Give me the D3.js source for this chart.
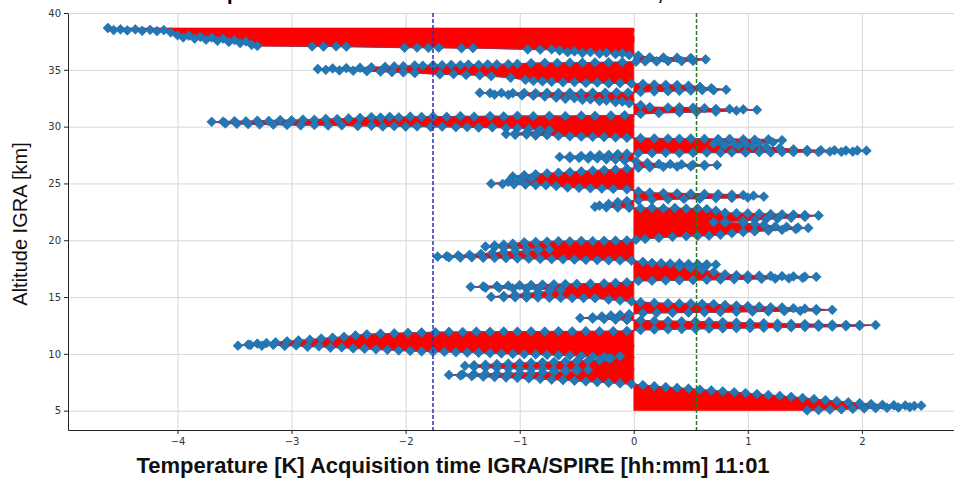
<!DOCTYPE html>
<html>
<head>
<meta charset="utf-8">
<script src="https://cdn.jsdelivr.net/npm/d3@7"></script>
<style>
  body { margin: 0; background: #fff; }
  svg { display: block; }
  .grid line { stroke: #d6d6d6; stroke-width: 1; }
  .grid path { display: none; }
  .axis path, .axis line { stroke: #222; }
  .axis text { font-family: "DejaVu Sans", sans-serif; font-size: 10px; fill: #333; }
</style>
</head>
<body>
<div id="chart"></div>
<script>
// Canvas
var width  = 954;
var height = 484;

// Tick values
var xTicks = [-4, -3, -2, -1, 0, 1, 2];
var yTicks = [5, 10, 15, 20, 25, 30, 35, 40];

// Dashed reference lines [K]
var refLines = [-1.76, 0.55];

// Profile points: [temperature difference K, altitude km]
var upperProfile = [
  [-4.61,38.68],[-4.56,38.50],[-4.50,38.56],[-4.44,38.47],[-4.37,38.55],[-4.31,38.43],[-4.24,38.52],[-4.18,38.40],[-4.12,38.49],[-4.06,38.30],
  [-4.00,38.05],[-3.95,37.85],[-3.90,38.00],[-3.85,37.75],[-3.80,37.90],[-3.75,37.65],[-3.70,37.85],[-3.65,37.55],[-3.60,37.75],[-3.55,37.45],[-3.50,37.62],[-3.45,37.35],
  [-3.40,37.50],[-3.35,37.20],[-3.30,37.10],
  [-2.82,37.06],[-2.72,37.05],[-2.61,37.06],[-2.52,37.04],[-2.01,36.95],[-1.90,36.96],[-1.80,36.94],[-1.71,36.95],[-1.51,36.90],[-1.41,36.92],[-0.93,36.80],[-0.82,36.78],[-0.72,36.80],
  [-0.65,36.70],[-0.58,36.55],[-0.52,36.62],[-0.45,36.48],[-0.38,36.56],[-0.30,36.42],[-0.24,36.50],[-0.16,36.38],[-0.10,36.45],[-0.04,36.30],
  [0.04,36.25],[0.14,36.10],[0.26,36.08],[0.38,36.06],[0.50,36.04],[0.63,35.92],[0.52,35.78],[0.42,35.76],[0.30,35.77],[0.20,35.74],[0.10,35.74],[0.02,35.72],
  [-0.10,35.68],[-0.22,35.66],[-0.34,35.65],[-0.45,35.62],[-0.56,35.63],[-0.67,35.60],[-0.78,35.61],[-0.90,35.58],[-1.02,35.52],[-1.10,35.50],[-1.20,35.47],[-1.28,35.48],
  [-1.36,35.44],[-1.45,35.46],[-1.52,35.42],[-1.60,35.44],[-1.68,35.40],[-1.76,35.41],[-1.85,35.36],[-1.92,35.38],[-2.02,35.32],[-2.10,35.30],[-2.18,35.26],[-2.30,35.22],
  [-2.40,35.18],[-2.52,35.15],[-2.64,35.12],[-2.77,35.07],
  [-2.70,35.00],[-2.58,34.95],[-2.46,34.92],[-2.34,34.88],[-2.22,34.85],[-2.12,34.80],[-2.02,34.78],[-1.92,34.72],[-1.70,34.60],[-1.58,34.62],[-1.47,34.55],[-1.35,34.52],
  [-1.25,34.45],[-1.08,34.30],[-0.95,34.12],[-0.88,34.02],[-0.80,33.98],[-0.72,33.95],[-0.62,33.90],[-0.52,33.92],[-0.42,33.85],[-0.32,33.88],[-0.22,33.80],[-0.12,33.82],[-0.02,33.78],
  [0.08,33.75],[0.18,33.70],[0.28,33.68],[0.38,33.66],[0.48,33.60],[0.58,33.50],[0.68,33.38],[0.81,33.25],[0.70,33.20],[0.60,33.22],[0.50,33.18],[0.40,33.15],[0.30,33.12],[0.18,33.10],[0.06,33.05],
  [-0.05,33.00],[-0.15,33.02],[-0.25,32.98],[-0.36,33.00],[-0.46,32.95],[-0.56,32.98],[-0.66,32.96],[-0.76,32.98],[-0.86,32.95],[-0.96,32.97],[-1.06,32.95],[-1.16,32.97],[-1.26,32.95],[-1.35,32.98],
  [-1.22,32.82],[-1.10,32.80],[-0.98,32.75],[-0.88,32.72],[-0.78,32.65],[-0.68,32.55],[-0.60,32.45],[-0.52,32.50],[-0.45,32.35],[-0.38,32.40],[-0.30,32.25],[-0.24,32.30],[-0.16,32.15],[-0.10,32.20],[-0.04,32.05],
  [0.06,31.90],[0.14,31.72],[0.30,31.68],[0.40,31.70],[0.52,31.66],[0.62,31.62],[0.72,31.55],[0.84,31.55],[0.96,31.52],[1.08,31.48],[0.90,31.40],[0.72,31.32],[0.55,31.28],[0.40,31.25],[0.22,31.20],[0.06,31.12],
  [-0.08,31.00],[-0.20,30.98],[-0.34,30.95],[-0.46,30.96],[-0.60,30.92],[-0.74,30.95],[-0.88,30.92],[-1.02,30.95],[-1.14,30.90],[-1.26,30.93],[-1.40,30.88],[-1.52,30.92],
  [-1.64,30.86],[-1.76,30.90],[-1.86,30.85],[-1.96,30.88],[-2.06,30.82],[-2.14,30.86],[-2.22,30.80],[-2.30,30.84],[-2.40,30.76],[-2.50,30.72],[-2.60,30.66],[-2.70,30.68],
  [-2.80,30.60],[-2.90,30.62],[-3.00,30.55],[-3.10,30.58],[-3.20,30.50],[-3.30,30.52],[-3.40,30.46],[-3.50,30.48],[-3.60,30.44],[-3.70,30.42],
  [-3.58,30.28],[-3.48,30.25],[-3.38,30.22],[-3.28,30.20],[-3.16,30.18],[-3.04,30.15],[-2.92,30.12],[-2.80,30.15],[-2.68,30.10],[-2.56,30.12],[-2.42,30.05],[-2.30,30.08],
  [-2.20,30.02],[-2.10,30.05],[-2.00,30.00],[-1.90,30.02],[-1.78,29.98],[-1.68,30.00],[-1.56,29.95],[-1.46,29.96],[-1.36,29.92],[-1.24,29.94],[-1.12,29.88],[-1.02,29.86],
  [-0.92,29.80],[-0.82,29.72],[-0.74,29.68],[-0.84,29.55],[-0.94,29.48],[-1.04,29.40],[-1.12,29.35],[-1.04,29.28],[-0.94,29.30],[-0.86,29.22],[-0.76,29.25],[-0.66,29.18],
  [-0.56,29.15],[-0.46,29.12],[-0.36,29.10],[-0.26,29.08],[-0.16,29.05],[-0.06,29.02]
];

var middleProfile = [
  [0.06,28.98],[0.18,28.96],[0.30,28.95],[0.40,28.93],[0.50,28.95],[0.62,28.92],[0.74,28.90],[0.84,28.92],[0.96,28.88],[1.06,28.85],[1.18,28.88],[1.30,28.80],
  [1.22,28.62],[1.10,28.55],[0.98,28.50],[0.88,28.52],[0.78,28.45],[0.70,28.48],[0.80,28.35],[0.92,28.30],[1.04,28.28],[1.16,28.20],[1.28,28.10],[1.40,28.00],
  [1.52,27.95],[1.64,27.92],[1.76,27.92],[1.86,27.90],[1.96,27.90],[2.04,27.88],
  [1.92,27.80],[1.82,27.78],[1.72,27.80],[1.62,27.76],[1.52,27.78],[1.40,27.75],[1.30,27.76],[1.20,27.73],[1.10,27.75],[0.98,27.72],[0.86,27.74],[0.76,27.70],
  [0.64,27.72],[0.52,27.70],[0.40,27.68],[0.28,27.70],[0.16,27.66],[0.04,27.66],
  [-0.06,27.62],[-0.14,27.58],[-0.22,27.52],[-0.30,27.50],[-0.38,27.45],[-0.46,27.42],[-0.56,27.38],[-0.65,27.33],[-0.56,27.22],[-0.48,27.25],[-0.40,27.18],[-0.32,27.20],
  [-0.24,27.12],[-0.16,27.10],[-0.08,27.02],
  [0.02,26.95],[0.12,26.80],[0.22,26.72],[0.32,26.70],[0.42,26.68],[0.52,26.66],[0.62,26.64],[0.73,26.62],[0.62,26.55],[0.50,26.50],[0.38,26.48],[0.26,26.45],[0.14,26.42],[0.04,26.38],
  [-0.06,26.30],[-0.16,26.22],[-0.26,26.18],[-0.36,26.12],[-0.46,26.05],[-0.56,26.00],[-0.66,25.94],[-0.76,25.88],[-0.86,25.80],[-0.96,25.72],[-1.06,25.62],[-0.98,25.50],
  [-0.90,25.45],[-1.00,25.30],[-1.10,25.15],[-1.25,24.98],
  [-1.15,24.95],[-1.05,24.92],[-0.95,24.90],[-0.86,24.86],[-0.77,24.85],[-0.68,24.78],[-0.58,24.65],[-0.48,24.62],[-0.38,24.58],[-0.28,24.55],[-0.18,24.52],[-0.06,24.48],
  [0.04,24.30],[0.14,24.18],[0.26,24.15],[0.38,24.12],[0.50,24.10],[0.62,24.08],[0.74,24.05],[0.86,24.02],[0.96,23.98],[1.05,23.92],[1.14,23.84],
  [1.00,23.76],[0.86,23.72],[0.72,23.70],[0.58,23.66],[0.44,23.64],[0.30,23.60],[0.16,23.56],[0.04,23.52],
  [-0.06,23.45],[-0.14,23.35],[-0.22,23.20],[-0.30,23.05],[-0.34,22.95],[-0.24,22.90],[-0.14,22.88],[-0.04,22.85],
  [0.06,22.82],[0.16,22.86],[0.26,22.80],[0.36,22.84],[0.46,22.78],[0.56,22.80],[0.64,22.74],
  [0.72,22.60],[0.80,22.42],[0.90,22.38],[1.00,22.36],[1.10,22.34],[1.20,22.30],[1.30,22.28],[1.40,22.26],[1.50,22.22],[1.62,22.18],
  [1.50,22.05],[1.38,21.98],[1.26,21.90],[1.16,21.85],[1.06,21.80],[0.96,21.70],[0.80,21.66],[0.70,21.60],[0.80,21.55],[0.96,21.50],[1.06,21.42],[1.14,21.35],
  [1.24,21.22],[1.34,21.18],[1.44,21.12],[1.53,21.08],[1.42,20.98],[1.30,20.92],[1.18,20.85],[1.06,20.78],[0.96,20.72],[0.86,20.62],[0.76,20.48],[0.66,20.40],
  [0.56,20.38],[0.46,20.36],[0.34,20.30],[0.22,20.22],[0.10,20.12],[0.02,20.05]
];

var lowerProfile = [
  [-0.06,19.98],[-0.16,19.96],[-0.26,19.95],[-0.36,19.92],[-0.46,19.94],[-0.56,19.90],[-0.66,19.92],[-0.76,19.88],[-0.86,19.85],[-0.96,19.82],[-1.06,19.70],[-1.14,19.62],
  [-1.22,19.55],[-1.30,19.45],[-1.22,19.40],[-1.14,19.35],[-1.04,19.30],[-0.94,19.25],[-0.84,19.22],[-0.74,19.18],[-0.84,19.10],[-0.94,19.05],[-1.04,19.00],[-1.14,18.95],
  [-1.24,18.88],[-1.34,18.80],[-1.44,18.72],[-1.54,18.66],[-1.64,18.60],[-1.72,18.56],
  [-1.62,18.50],[-1.52,18.48],[-1.42,18.50],[-1.32,18.46],[-1.22,18.44],[-1.12,18.42],[-1.02,18.40],[-0.92,18.38],[-0.82,18.36],[-0.72,18.34],[-0.62,18.32],[-0.52,18.30],
  [-0.42,18.28],[-0.32,18.26],[-0.22,18.24],[-0.12,18.22],[-0.02,18.20],
  [0.08,18.10],[0.16,18.00],[0.24,17.98],[0.32,17.95],[0.40,17.96],[0.48,17.92],[0.56,17.90],[0.64,17.88],[0.72,17.86],[0.64,17.78],[0.56,17.74],[0.48,17.70],
  [0.40,17.66],[0.50,17.55],[0.60,17.40],[0.70,17.20],[0.80,17.00],[0.90,16.92],[1.00,16.90],[1.10,16.88],[1.20,16.86],[1.30,16.84],[1.40,16.82],[1.50,16.80],[1.60,16.78],
  [1.48,16.68],[1.36,16.64],[1.24,16.62],[1.12,16.60],[1.00,16.58],[0.88,16.56],[0.76,16.54],[0.64,16.52],[0.52,16.50],[0.40,16.48],[0.28,16.46],[0.16,16.44],[0.04,16.42],
  [-0.06,16.30],[-0.16,16.24],[-0.26,16.20],[-0.38,16.18],[-0.50,16.16],[-0.60,16.14],[-0.70,16.12],[-0.80,16.10],[-0.90,16.06],[-1.00,16.04],[-1.10,16.00],[-1.20,15.98],
  [-1.32,15.94],[-1.43,15.90],
  [-1.30,15.82],[-1.18,15.80],[-1.06,15.76],[-0.94,15.74],[-0.84,15.70],[-0.74,15.68],[-0.64,15.62],[-0.74,15.50],[-0.84,15.40],[-0.94,15.30],[-1.04,15.20],[-1.14,15.10],
  [-1.25,15.02],[-1.14,14.98],[-1.04,14.97],[-0.94,14.95],[-0.84,14.96],[-0.74,14.94],[-0.64,14.93],[-0.54,14.92],[-0.44,14.91],[-0.34,14.90],[-0.22,14.78],[-0.12,14.70],[-0.02,14.62],
  [0.06,14.55],[0.18,14.48],[0.30,14.45],[0.40,14.43],[0.50,14.44],[0.60,14.40],[0.70,14.38],[0.80,14.30],[0.90,14.25],[1.00,14.20],[1.10,14.15],[1.20,14.10],
  [1.30,14.08],[1.40,14.02],[1.50,13.98],[1.60,13.94],[1.74,13.88],
  [1.60,13.80],[1.46,13.78],[1.32,13.76],[1.18,13.74],[1.04,13.72],[0.90,13.70],[0.76,13.68],[0.62,13.66],[0.48,13.64],[0.34,13.62],[0.20,13.60],[0.08,13.58],
  [-0.04,13.50],[-0.12,13.44],[-0.20,13.38],[-0.28,13.30],[-0.36,13.22],[-0.47,13.15],[-0.36,13.10],[-0.26,13.06],[-0.16,13.02],[-0.06,12.98],
  [0.06,12.95],[0.18,12.90],[0.30,12.88],[0.42,12.86],[0.54,12.85],[0.66,12.83],[0.78,12.80],[0.90,12.75],[1.02,12.72],[1.14,12.70],[1.26,12.66],[1.38,12.64],
  [1.50,12.62],[1.62,12.60],[1.74,12.58],[1.86,12.56],[1.98,12.55],[2.12,12.54],
  [1.98,12.46],[1.86,12.42],[1.74,12.40],[1.62,12.38],[1.50,12.36],[1.38,12.34],[1.26,12.32],[1.14,12.30],[1.02,12.28],[0.90,12.26],[0.78,12.24],[0.66,12.22],
  [0.54,12.20],[0.42,12.18],[0.30,12.16],[0.18,12.14],[0.06,12.10]
];

var bottomProfile = [
  [-0.06,12.02],[-0.18,12.00],[-0.30,11.98],[-0.42,11.99],[-0.54,11.97],[-0.66,11.98],[-0.78,11.96],[-0.90,11.97],[-1.02,11.95],[-1.14,11.96],[-1.26,11.94],[-1.38,11.95],
  [-1.50,11.92],[-1.62,11.93],[-1.74,11.90],[-1.86,11.88],[-1.98,11.85],[-2.10,11.80],[-2.22,11.78],[-2.34,11.72],[-2.44,11.62],[-2.54,11.50],[-2.64,11.42],[-2.74,11.35],
  [-2.84,11.25],[-2.94,11.18],[-3.04,11.10],[-3.14,11.02],[-3.22,10.95],[-3.30,10.90],[-3.38,10.82],[-3.47,10.72],
  [-3.36,10.78],[-3.26,10.72],[-3.16,10.80],[-3.06,10.70],[-2.96,10.74],[-2.86,10.62],[-2.76,10.66],[-2.66,10.55],[-2.56,10.58],[-2.46,10.48],[-2.36,10.45],[-2.26,10.40],
  [-2.16,10.36],[-2.06,10.30],[-1.96,10.26],[-1.86,10.22],[-1.76,10.20],[-1.66,10.18],[-1.56,10.15],[-1.46,10.12],[-1.36,10.10],[-1.26,10.06],[-1.16,10.04],[-1.06,10.00],
  [-0.96,9.98],[-0.86,9.95],[-0.76,9.92],[-0.66,9.88],[-0.56,9.86],[-0.46,9.82],[-0.36,9.78],[-0.26,9.72],[-0.20,9.62],
  [-0.12,9.80],[-0.22,9.60],[-0.30,9.45],[-0.40,9.40],[-0.50,9.36],[-0.60,9.32],[-0.70,9.28],[-0.80,9.25],[-0.90,9.22],[-1.00,9.18],[-1.10,9.15],[-1.20,9.10],
  [-1.30,9.05],[-1.40,9.00],[-1.48,8.95],[-1.40,8.85],[-1.30,8.80],[-1.20,8.76],[-1.10,8.72],[-1.00,8.68],[-0.90,8.66],[-0.80,8.70],[-0.70,8.62],[-0.60,8.58],
  [-0.50,8.66],[-0.40,8.60],[-0.50,8.50],[-0.60,8.45],[-0.70,8.40],[-0.80,8.36],[-0.90,8.32],[-1.00,8.30],[-1.10,8.28],[-1.20,8.26],[-1.30,8.24],[-1.40,8.22],
  [-1.50,8.20],[-1.62,8.15],
  [-1.52,8.10],[-1.42,8.04],[-1.32,8.00],[-1.22,7.96],[-1.12,7.92],[-1.02,7.88],[-0.92,7.84],[-0.82,7.80],[-0.72,7.74],[-0.62,7.70],[-0.52,7.64],[-0.42,7.58],
  [-0.32,7.52],[-0.22,7.46],[-0.12,7.40],[-0.02,7.34],
  [0.08,7.25],[0.18,7.16],[0.28,7.08],[0.38,7.00],[0.48,6.94],[0.58,6.85],[0.68,6.78],[0.78,6.70],[0.88,6.62],[0.98,6.55],[1.08,6.46],[1.18,6.38],
  [1.28,6.30],[1.38,6.22],[1.48,6.12],[1.58,6.02],[1.68,5.92],[1.78,5.84],[1.88,5.74],[1.98,5.66],[2.08,5.58],[2.18,5.52],[2.28,5.48],[2.38,5.46],[2.46,5.42],[2.52,5.45],
  [2.42,5.32],[2.32,5.28],[2.22,5.25],[2.12,5.22],[2.02,5.20],[1.92,5.16],[1.82,5.12],[1.72,5.10],[1.62,5.06],[1.52,5.02]
];

var profile = upperProfile.concat(middleProfile, lowerProfile, bottomProfile);

// Plot area edges (avoid the global "top")
var plotLeft = 68, plotRight = 960, plotTop = 13, plotBottom = 430;

var x = d3.scaleLinear().domain([-4.96, 2.86]).range([plotLeft, plotRight]);
var y = d3.scaleLinear().domain([3.3, 40]).range([plotBottom, plotTop]);

var svg = d3.select("#chart").append("svg")
    .attr("width", width)
    .attr("height", height);

svg.append("defs").append("clipPath")
    .attr("id", "plotClip")
  .append("rect")
    .attr("x", plotLeft)
    .attr("y", plotTop)
    .attr("width", plotRight - plotLeft)
    .attr("height", plotBottom - plotTop);

// Grid lines
svg.append("g")
    .attr("class", "grid")
    .attr("transform", "translate(0," + plotBottom + ")")
    .call(d3.axisBottom(x).tickValues(xTicks).tickSize(-(plotBottom - plotTop)).tickFormat(""));

svg.append("g")
    .attr("class", "grid")
    .attr("transform", "translate(" + plotLeft + ",0)")
    .call(d3.axisLeft(y).tickValues(yTicks).tickSize(-(plotRight - plotLeft)).tickFormat(""));

var plot = svg.append("g").attr("clip-path", "url(#plotClip)");

// Red fill between the profile and 0 K
var area = d3.area()
    .x0(x(0))
    .x1(d => x(d[0]))
    .y(d => y(d[1]));

plot.append("path")
    .datum(profile)
    .attr("fill", "#ff0000")
    .attr("stroke", "#ff0000")
    .attr("stroke-width", 0.6)
    .attr("d", area);

// Profile line
var line = d3.line()
    .x(d => x(d[0]))
    .y(d => y(d[1]));

plot.append("path")
    .datum(profile)
    .attr("fill", "none")
    .attr("stroke", "#9c2f4c")
    .attr("stroke-width", 1.2)
    .attr("d", line);

// Diamond markers
var diamond = d3.symbol().type(d3.symbolSquare).size(48)();

plot.append("g")
    .selectAll("path")
    .data(profile)
    .enter()
    .append("path")
    .attr("d", diamond)
    .attr("transform", d => "translate(" + x(d[0]) + "," + y(d[1]) + ") rotate(45)")
    .attr("fill", "#2277b4")
    .attr("stroke", "#1f6fa8")
    .attr("stroke-width", 0.6);

// Dashed reference lines
var refColors = ["#2f2fb4", "#237a23"];
plot.selectAll(".ref")
    .data(refLines)
    .enter()
    .append("line")
    .attr("class", "ref")
    .attr("x1", d => x(d))
    .attr("x2", d => x(d))
    .attr("y1", plotTop)
    .attr("y2", plotBottom)
    .attr("stroke", (d, i) => refColors[i])
    .attr("stroke-width", 1.5)
    .attr("stroke-dasharray", "4,2");

// Axes
svg.append("g")
    .attr("class", "axis")
    .attr("transform", "translate(0," + plotBottom + ")")
    .call(d3.axisBottom(x).tickValues(xTicks).tickSize(4).tickSizeOuter(0).tickPadding(4));

svg.append("g")
    .attr("class", "axis")
    .attr("transform", "translate(" + plotLeft + ",0)")
    .call(d3.axisLeft(y).tickValues(yTicks).tickSize(4).tickSizeOuter(0).tickPadding(3));

// Title (cut off at the top in the reference)
svg.append("text")
    .attr("x", 453)
    .attr("y", 0)
    .attr("text-anchor", "middle")
    .attr("font-family", "Liberation Sans, Arial, sans-serif")
    .attr("font-weight", "bold")
    .attr("font-size", "20px")
    .text("Temperature Difference between IGRA and SPIRE, 11:01");

// Axis labels
svg.append("text")
    .attr("x", 453)
    .attr("y", 473)
    .attr("text-anchor", "middle")
    .attr("font-family", "Liberation Sans, Arial, sans-serif")
    .attr("font-weight", "bold")
    .attr("font-size", "22px")
    .attr("fill", "#111")
    .text("Temperature [K] Acquisition time IGRA/SPIRE [hh:mm] 11:01");

svg.append("text")
    .attr("transform", "translate(27,224) rotate(-90)")
    .attr("text-anchor", "middle")
    .attr("font-family", "Liberation Sans, Arial, sans-serif")
    .attr("font-size", "20px")
    .attr("fill", "#111")
    .text("Altitude IGRA [km]");
</script>
</body>
</html>
